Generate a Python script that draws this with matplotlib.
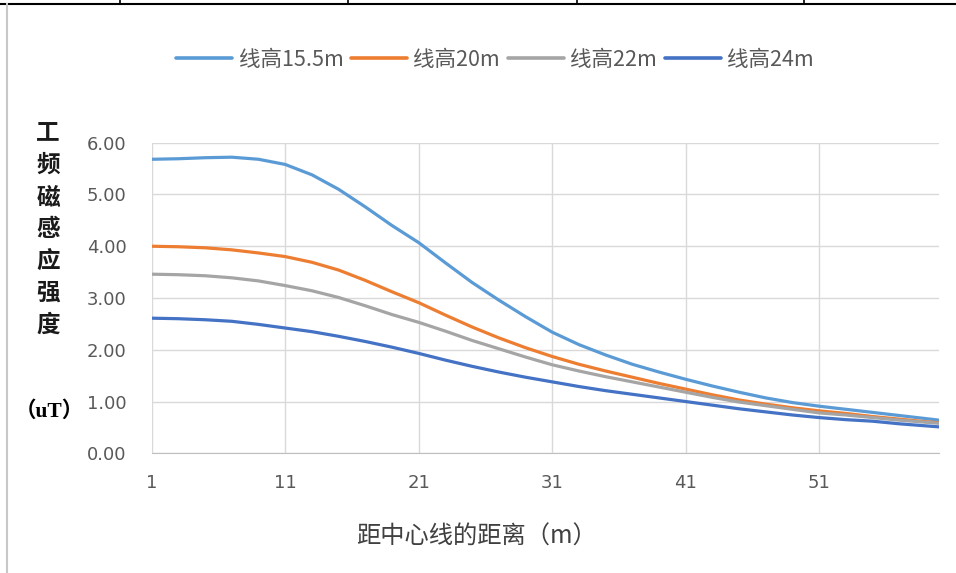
import numpy as np
import matplotlib
matplotlib.use('Agg')
import matplotlib.pyplot as plt

plt.rcParams['font.family'] = ['Noto Sans CJK SC', 'DejaVu Sans']

# distance from centre line (m)
dist = [1, 3, 5, 7, 9, 11, 13, 15, 17, 19, 21, 23, 25, 27, 29, 31, 33, 35, 37, 39,
        41, 43, 45, 47, 49, 51, 53, 55, 57, 59, 60]

# power-frequency magnetic induction (uT) for each line height
h155 = [5.68, 5.69, 5.71, 5.72, 5.68, 5.58, 5.38, 5.10, 4.76, 4.40, 4.07, 3.68, 3.30, 2.96, 2.64, 2.34,
        2.10, 1.90, 1.72, 1.57, 1.43, 1.30, 1.18, 1.07, 0.98, 0.91, 0.85, 0.79, 0.73, 0.67, 0.64]
h20 = [4.00, 3.99, 3.97, 3.93, 3.87, 3.80, 3.69, 3.54, 3.34, 3.12, 2.91, 2.67, 2.44, 2.23, 2.04, 1.87,
       1.72, 1.59, 1.47, 1.35, 1.24, 1.13, 1.03, 0.95, 0.88, 0.82, 0.77, 0.71, 0.66, 0.61, 0.59]
h22 = [3.46, 3.45, 3.43, 3.39, 3.33, 3.24, 3.14, 3.01, 2.85, 2.68, 2.53, 2.36, 2.18, 2.02, 1.86, 1.71,
       1.59, 1.48, 1.38, 1.28, 1.18, 1.08, 0.99, 0.92, 0.85, 0.78, 0.74, 0.69, 0.64, 0.60, 0.58]
h24 = [2.61, 2.60, 2.58, 2.55, 2.49, 2.42, 2.35, 2.26, 2.16, 2.05, 1.93, 1.80, 1.68, 1.57, 1.47, 1.38,
       1.29, 1.21, 1.14, 1.07, 1.00, 0.93, 0.86, 0.80, 0.74, 0.69, 0.65, 0.62, 0.57, 0.53, 0.51]

series = [('线高15.5m', h155, '#5B9BD5'),
          ('线高20m', h20, '#ED7D31'),
          ('线高22m', h22, '#A5A5A5'),
          ('线高24m', h24, '#4472C4')]

xticks = [1, 11, 21, 31, 41, 51]
yticks = [0, 1, 2, 3, 4, 5, 6]

W, H = 956, 573
fig = plt.figure(figsize=(W / 100, H / 100), dpi=100)
ax = fig.add_axes([151.7 / W, 1 - 453.3 / H, (939.3 - 151.7) / W, (453.3 - 142.7) / H])

for name, vals, col in series:
    ax.plot(dist, vals, color=col, lw=2.3, label=name,
            solid_capstyle='round', solid_joinstyle='round')

ax.set_xlim(1, 60)
ax.set_ylim(0, 6)
ax.set_xticks(xticks)
ax.set_yticks(yticks)
ax.set_yticklabels(['%.2f' % v for v in yticks])
ax.grid(True, color='#D9D9D9', lw=1.0)
ax.set_axisbelow(True)
for s in ['top', 'right', 'left']:
    ax.spines[s].set_visible(False)
ax.spines['bottom'].set_color('#BFBFBF')
ax.tick_params(length=0, labelsize=13, colors='#595959')
ax.tick_params(axis='y', pad=18)
ax.tick_params(axis='x', pad=15)
for lbl in ax.get_xticklabels() + ax.get_yticklabels():
    lbl.set_family('DejaVu Sans')

leg = fig.legend(loc='center', bbox_to_anchor=(495 / W, 1 - 60 / H), ncol=4, frameon=False,
                 fontsize=15.5, handlelength=2.6, columnspacing=0.35, handletextpad=0.3)
for t in leg.get_texts():
    t.set_color('#595959')
for h in leg.get_lines():
    h.set_linewidth(2.6)

# stacked y-axis title
ylab = '工频磁感应强度'
for i, ch in enumerate(ylab):
    fig.text(48 / W, 1 - (133 + i * 32) / H, ch, ha='center', va='center',
             fontsize=17, fontweight='bold', color='#1a1a1a')
fig.text(49 / W, 1 - 412 / H, '（uT）', ha='center', va='center', fontsize=15.5,
         fontweight='bold', color='black', family=['Liberation Serif', 'Noto Sans CJK SC'])

fig.text(476 / W, 1 - 537 / H, '距中心线的距离（m）', ha='center', va='center',
         fontsize=17.5, color='#404040')

# table cell borders above the chart
fig.add_artist(plt.Line2D([0, 1], [1 - 3.5 / H] * 2, color='black', lw=1.5))
for xv in [120, 348, 577, 804]:
    fig.add_artist(plt.Line2D([xv / W] * 2, [1 - 3.5 / H, 1], color='black', lw=1.2))
fig.add_artist(plt.Line2D([7 / W] * 2, [0, 1 - 4 / H], color='#C8C8C8', lw=1.5))

fig.savefig('out.png', dpi=100)
